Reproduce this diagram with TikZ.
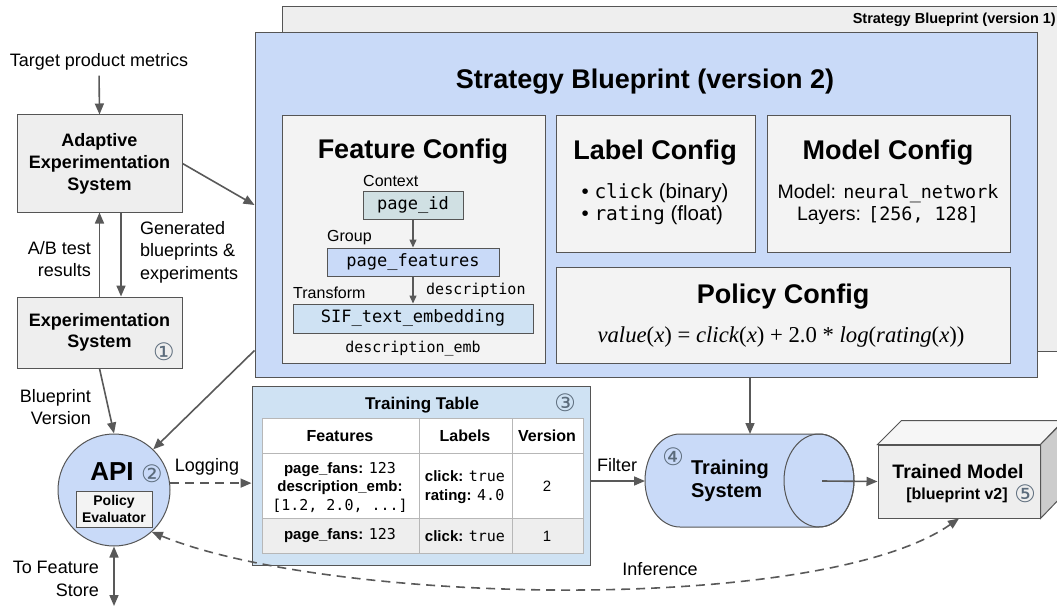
\documentclass[tikz,border=0pt]{standalone}
\usepackage{fontspec}
\setmainfont{Liberation Sans}
\newfontfamily\monof{DejaVu Sans Mono}
\newfontfamily\seriff{Liberation Serif}
\newfontfamily\symf{DejaVu Sans}
\usetikzlibrary{arrows.meta,calc}
\definecolor{gbox}{HTML}{EEEEEE}
\definecolor{cbox}{HTML}{F3F3F3}
\definecolor{bluebp}{HTML}{C9DAF8}
\definecolor{lblue}{HTML}{CFE2F3}
\definecolor{cyanl}{HTML}{D0E0E3}
\definecolor{edge}{HTML}{595959}
\definecolor{ln}{HTML}{555555}
\definecolor{numc}{HTML}{5B6B7B}
\definecolor{gridc}{HTML}{B7B7B7}
\newcommand\fs[2]{\fontsize{#1}{#2}\selectfont}
\newcommand\cnum[1]{{\symf\color{numc}\fs{24}{26}#1}}
\begin{document}
\begin{tikzpicture}[x=1pt,y=-1pt,
  arr/.style={draw=edge, line width=1.6pt, -{Triangle[length=11pt,width=9pt]}},
  sarr/.style={draw=edge, line width=1.4pt, -{Triangle[length=8pt,width=7pt]}},
  dsh/.style={dash pattern=on 9pt off 6pt},
  gb/.style={draw=ln, fill=gbox, line width=1pt, inner sep=0pt, align=center},
  cb/.style={draw=ln, fill=cbox, line width=1pt, inner sep=0pt},
  mb/.style={draw=ln, line width=1pt, inner sep=0pt, font=\monof\fs{17}{20}},
  lab/.style={inner sep=0pt, font=\fs{18}{22.5}},
  ttl/.style={inner sep=0pt, font=\bfseries\fs{27}{31}},
]
\clip (0,0) rectangle (1057,607);

% --- blueprint boxes ---
\node[draw=ln, fill=gbox, line width=1pt, minimum width=800pt, minimum height=344pt, inner sep=0pt] (v1) at (682,179) {};
\node[inner sep=0pt, anchor=east, font=\bfseries\fs{14.5}{16}] (v1t) at (1056,20) {Strategy Blueprint (version 1)};
\node[draw=ln, fill=bluebp, line width=1pt, minimum width=782pt, minimum height=344pt, inner sep=0pt] (blue) at (646,205) {};
\node[ttl] (bluet) at (645,82) {Strategy Blueprint (version 2)};

% --- feature config ---
\node[cb, minimum width=263pt, minimum height=247pt] (feat) at (413.5,239.5) {};
\node[ttl] (featt) at (413,152) {Feature Config};
\node[inner sep=0pt, anchor=west, font=\fs{16}{18}] (ctxl) at (363,181) {Context};
\node[mb, fill=cyanl, minimum width=100pt, minimum height=28pt] (pid) at (413,205) {page\_id};
\node[inner sep=0pt, anchor=west, font=\fs{16}{18}] (grpl) at (327,238) {Group};
\node[mb, fill=bluebp, minimum width=172pt, minimum height=28pt] (pfeat) at (413,262) {page\_features};
\node[inner sep=0pt, anchor=west, font=\fs{16}{18}] (trl) at (293,293) {Transform};
\node[inner sep=0pt, anchor=west, font=\monof\fs{15}{18}] (desc) at (426,290) {description};
\node[mb, fill=lblue, minimum width=240pt, minimum height=29pt] (sif) at (413,318.5) {SIF\_text\_embedding};
\node[inner sep=0pt, font=\monof\fs{15}{18}] (demb) at (413,349) {description\_emb};
\draw[sarr] (pid.south) -- (pfeat.north);
\draw[sarr] (pfeat.south) -- (sif.north);

% --- label / model / policy config ---
\node[cb, minimum width=199pt, minimum height=136pt] (labc) at (655.5,184) {};
\node[ttl] (labt) at (655,153) {Label Config};
\node[inner sep=0pt, align=left, font=\fs{20.5}{22}] (labl) at (655,204) {\textbullet\ {\monof\fs{19.5}{22}click} (binary)\\\textbullet\ {\monof\fs{19.5}{22}rating} (float)};
\node[cb, minimum width=243pt, minimum height=136pt] (modc) at (888.5,184) {};
\node[ttl] (modt) at (888,153) {Model Config};
\node[inner sep=0pt, align=center, font=\fs{19.5}{22}] (modl) at (888,204) {Model: {\monof\fs{18.4}{22}neural\_network}\\Layers: {\monof\fs{18.4}{22}[256, 128]}};
\node[cb, minimum width=454pt, minimum height=96pt] (polc) at (783,315) {};
\node[ttl] (polt) at (783,297) {Policy Config};
\node[inner sep=0pt, font=\seriff\fs{22.7}{26}] (form) at (781,337) {\textit{value}(\textit{x}) = \textit{click}(\textit{x}) + 2.0 * \textit{log}(\textit{rating}(\textit{x}))};

% --- left column ---
\node[lab] (tpm) at (99,62) {Target product metrics};
\node[gb, minimum width=165pt, minimum height=97pt, font=\bfseries\fs{18}{22}] (ada) at (99.5,163.5) {Adaptive\\Experimentation\\System};
\node[gb, minimum width=165pt, minimum height=71pt, font=\bfseries\fs{18}{21.5}] (exp) at (99.5,332.5) {Experimentation\\System};
\node[inner sep=0pt] (n1) at (164,352) {\cnum{①}};
\node[lab, anchor=east, align=right] (abl) at (91,259) {A/B test\\results};
\node[lab, anchor=west, align=left] (genl) at (140,252) {Generated\\blueprints \&\\experiments};
\node[lab, anchor=east, align=right] (bpl) at (91,407) {Blueprint\\Version};
\node[lab, anchor=east, align=right] (tfs) at (99,579) {To Feature\\Store};

\node[circle, draw=ln, fill=bluebp, line width=1pt, minimum size=112pt, inner sep=0pt] (api) at (114,490) {};
\node[inner sep=0pt, font=\bfseries\fs{26}{30}] (apit) at (112,472) {API};
\node[inner sep=0pt] (n2) at (152,474) {\cnum{②}};
\node[draw=ln, fill=cbox, line width=0.8pt, minimum width=76pt, minimum height=36pt, inner sep=0pt, align=center, font=\bfseries\fs{14}{17}] (pev) at (114,509) {Policy\\Evaluator};
\coordinate (fsend) at (114,606);

% --- training table ---
\node[draw=ln, fill=lblue, line width=1pt, minimum width=338pt, minimum height=179pt, inner sep=0pt] (table) at (421,475.5) {};
\node[inner sep=0pt, font=\bfseries\fs{17}{20}] (tablet) at (422,405) {Training Table};
\node[inner sep=0pt] (n3) at (565,403) {\cnum{③}};
\fill[white] (262,418) rectangle (583,518);
\fill[gbox] (262,518) rectangle (583,553);
\draw[gridc, line width=0.8pt] (262,418) rectangle (583,553);
\draw[gridc, line width=0.8pt] (419,418) -- (419,553) (512,418) -- (512,553) (262,453) -- (583,453) (262,518) -- (583,518);
\node[inner sep=0pt, font=\bfseries\fs{16}{19}] (h1) at (340,436) {Features};
\node[inner sep=0pt, font=\bfseries\fs{16}{19}] (h2) at (465,436) {Labels};
\node[inner sep=0pt, font=\bfseries\fs{16}{19}] (h3) at (547,436) {Version};
\node[inner sep=0pt, align=center, font=\fs{15}{18.5}] (r1a) at (340,487) {\textbf{page\_fans:} {\monof 123}\\\textbf{description\_emb:}\\{\monof [1.2, 2.0, ...]}};
\node[inner sep=0pt, align=left, font=\fs{15}{19}] (r1b) at (465,487) {\textbf{click:} {\monof true}\\\textbf{rating:} {\monof 4.0}};
\node[inner sep=0pt, font=\fs{15}{18}] (r1c) at (547,486) {2};
\node[inner sep=0pt, font=\fs{15}{18}] (r2a) at (340,536) {\textbf{page\_fans:} {\monof 123}};
\node[inner sep=0pt, font=\fs{15}{18}] (r2b) at (465,536) {\textbf{click:} {\monof true}};
\node[inner sep=0pt, font=\fs{15}{18}] (r2c) at (547,536) {1};

% --- training system cylinder ---
\draw[ln, fill=bluebp, line width=1pt] (680,434) -- (819,434) arc[start angle=90, end angle=-90, x radius=35pt, y radius=46.5pt] -- (680,527) arc[start angle=-90, end angle=-270, x radius=35pt, y radius=46.5pt] -- cycle;
\draw[ln, line width=1pt] (819,480.5) ellipse [x radius=35pt, y radius=46.5pt];
\coordinate (cylW) at (645,481);
\coordinate (cylN) at (750,434);
\coordinate (cylCap) at (822,481);
\node[inner sep=0pt, align=left, font=\bfseries\fs{20}{23}] (trs) at (730,481) {Training\\System};
\node[inner sep=0pt] (n4) at (673,457) {\cnum{④}};

% --- trained model ---
\node[draw=ln, fill=gbox, line width=1pt, minimum width=162pt, minimum height=73pt, inner sep=0pt] (model) at (959,481.5) {};
\draw[ln, fill=gbox!55!white, line width=1pt] (model.north west) -- ++(24,-24) -- ++(162,0) -- (model.north east) -- cycle;
\draw[ln, fill=black!20, line width=1pt] (model.north east) -- ++(24,-24) -- ++(0,73) -- (model.south east) -- cycle;
\node[inner sep=0pt, font=\bfseries\fs{19.5}{22}] (modelt) at (958,472) {Trained Model};
\node[inner sep=0pt, font=\bfseries\fs{16}{19}] (modelv) at (957,495) {[blueprint v2]};
\node[inner sep=0pt] (n5) at (1025,494) {\cnum{⑤}};

% --- connectors ---
\draw[arr, shorten <=5pt] (tpm.south) -- (ada.north);
\draw[arr] (ada.east) -- (blue.west);
\draw[arr] (exp.north) -- (ada.south);
\draw[arr] ($(ada.south)+(21.5,0)$) -- ($(exp.north)+(21.5,0)$);
\draw[arr] (exp.south) -- (api.north);
\draw[arr] ($(blue.south west)+(0,-27)$) -- (api.46);
\draw[arr, dsh] (api.7) -- (api.7 -| table.west);
\draw[draw=edge, line width=1.6pt, {Triangle[length=11pt,width=9pt]}-{Triangle[length=11pt,width=9pt]}] (api.south) -- (fsend);
\draw[arr] (cylW -| table.east) -- (cylW);
\draw[arr] (cylN |- blue.south) -- (cylN);
\draw[arr] (cylCap) -- (model.west);
\draw[draw=edge, line width=1.6pt, dsh, {Triangle[length=11pt,width=9pt]}-{Triangle[length=11pt,width=9pt]}] (api.-48) .. controls (330,605) and (820,615) .. (model.south);

\node[lab] (logl) at (207,467) {Logging};
\node[lab] (filt) at (617,465) {Filter};
\node[lab] (infl) at (660,569) {Inference};
\end{tikzpicture}
\end{document}
